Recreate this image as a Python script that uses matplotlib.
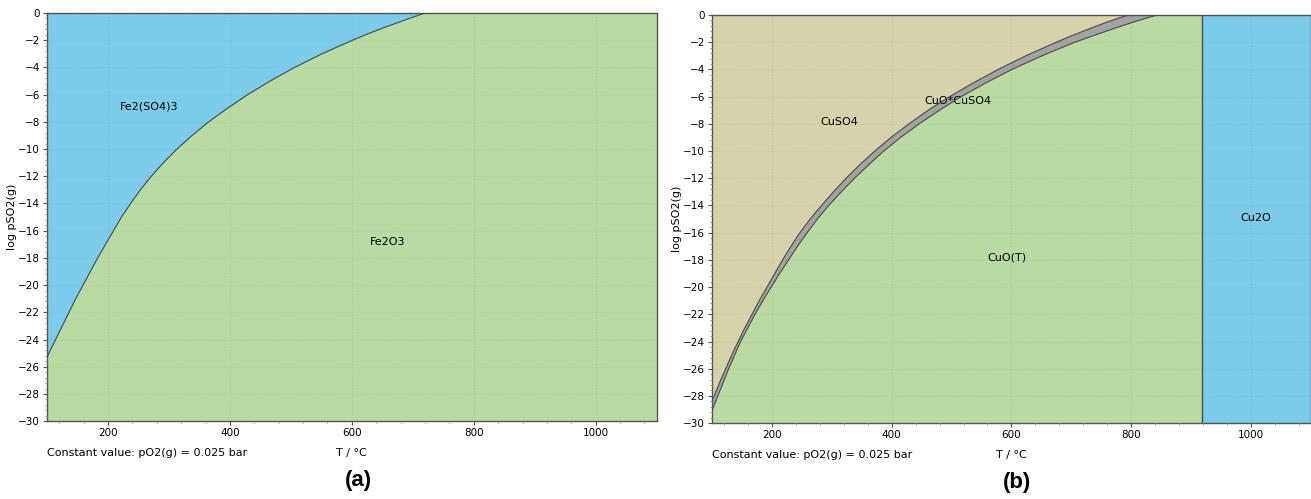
#!/usr/bin/env python3
"""Predominance diagrams: log pSO2 vs T at constant pO2 = 0.025 bar (Fe and Cu systems)."""

import matplotlib

matplotlib.use("Agg")
import matplotlib.pyplot as plt
from matplotlib.ticker import MultipleLocator

plt.rcParams["font.family"] = ["DejaVu Sans"]

OUT = "out.png"

T_MIN, T_MAX = 100, 1100
Y_MIN, Y_MAX = -30, 0

# (a) Fe2(SO4)3 / Fe2O3 boundary (log pSO2, T in °C)
FE_Y = [0, -0.5, -1, -1.5, -2, -3, -4, -5, -6, -7, -8, -9, -10, -11, -12, -13,
        -14, -15, -16, -17, -18, -19, -20, -21, -22, -23, -24, -25.3]
FE_T = [720, 688, 657, 628, 601, 551, 506, 466, 429, 396, 365, 338, 313, 291, 271, 253,
        237, 222, 209, 196, 183, 171, 159, 147, 136, 125, 114, 100]

# (b) CuSO4 / CuO*CuSO4 boundary
CU_UP_Y = [0, -0.5, -1, -1.5, -2, -3, -4, -5, -6, -7, -8, -9, -10, -11, -12, -13,
           -14, -15, -16, -17, -18, -19, -20, -21, -22, -23, -24, -25, -26, -27, -28, -28.3]
CU_UP_T = [795, 761, 731, 702, 675, 624, 578, 536, 497, 461, 429, 399, 372, 347, 324, 303,
           283, 264, 247, 232, 218, 205, 192, 179, 167, 155, 144, 133, 123, 113, 104, 100]
# (b) CuO*CuSO4 / CuO boundary
CU_LO_Y = [0, -0.5, -1, -1.5, -2, -3, -4, -5, -6, -7, -8, -9, -10, -11, -12, -13,
           -14, -15, -16, -17, -18, -19, -20, -21, -22, -23, -24, -25, -26, -27, -28, -29.1]
CU_LO_T = [843, 805, 771, 738, 706, 651, 601, 557, 516, 480, 446, 415, 387, 362, 338, 316,
           295, 276, 259, 243, 228, 213, 199, 185, 172, 160, 148, 138, 128, 119, 110, 100]
# (b) CuO / Cu2O boundary (vertical)
CU2O_T = 918

# labels: (text, T, log pSO2)
LABELS_A = [("Fe2(SO4)3", 268, -6.9), ("Fe2O3", 658, -16.8)]
LABELS_B = [("CuSO4", 313, -7.9), ("CuO*CuSO4", 510, -6.3),
            ("CuO(T)", 593, -17.8), ("Cu2O", 1008, -14.9)]

GREEN = "#b9dba2"
BLUE = "#7dcbea"
TAN = "#d6d2ac"
GRAY = "#a3a3a3"
LINE = "#4a4a4a"


def style_axes(ax):
    ax.set_xlim(T_MIN, T_MAX)
    ax.set_ylim(Y_MIN, Y_MAX)
    ax.xaxis.set_major_locator(MultipleLocator(200))
    ax.xaxis.set_minor_locator(MultipleLocator(40))
    ax.yaxis.set_major_locator(MultipleLocator(2))
    ax.yaxis.set_minor_locator(MultipleLocator(0.4))
    ax.tick_params(which="major", length=3, width=0.8, color="#555555", labelsize=7.5, pad=2)
    ax.tick_params(which="minor", length=1.5, width=0.6, color="#888888")
    ax.grid(True, which="major", color="#000000", alpha=0.07, linestyle=":", linewidth=0.8)
    ax.set_axisbelow(False)
    for sp in ax.spines.values():
        sp.set_color("#555555")
        sp.set_linewidth(1.0)
    ax.set_ylabel("log pSO2(g)", fontsize=8, labelpad=1)


def main():
    fig = plt.figure(figsize=(13.11, 4.99), dpi=100)
    ax_a = fig.add_axes([0.0359, 0.156, 0.465, 0.818])
    ax_b = fig.add_axes([0.543, 0.152, 0.457, 0.818])

    # (a)
    ax_a.set_facecolor(GREEN)
    ax_a.fill_betweenx(FE_Y, T_MIN, FE_T, color=BLUE, lw=0, zorder=1)
    ax_a.plot(FE_T, FE_Y, color=LINE, lw=0.8, zorder=3)
    for txt, t, y in LABELS_A:
        ax_a.text(t, y, txt, fontsize=8, ha="center", va="center", zorder=4)

    # (b)
    ax_b.set_facecolor(GREEN)
    ax_b.fill_betweenx(CU_UP_Y, T_MIN, CU_UP_T, color=TAN, lw=0, zorder=1)
    ax_b.fill(CU_UP_T + CU_LO_T[::-1], CU_UP_Y + CU_LO_Y[::-1],
              color=GRAY, lw=0, zorder=1)
    ax_b.axvspan(CU2O_T, T_MAX, color=BLUE, lw=0, zorder=1)
    ax_b.plot(CU_UP_T, CU_UP_Y, color=LINE, lw=0.8, zorder=3)
    ax_b.plot(CU_LO_T, CU_LO_Y, color=LINE, lw=0.8, zorder=3)
    ax_b.axvline(CU2O_T, color=LINE, lw=1.0, zorder=3)
    for txt, t, y in LABELS_B:
        ax_b.text(t, y, txt, fontsize=8, ha="center", va="center", zorder=4)

    for ax, tag in ((ax_a, "(a)"), (ax_b, "(b)")):
        style_axes(ax)
        ax.text(0.0, -0.065, "Constant value: pO2(g) = 0.025 bar", transform=ax.transAxes,
                fontsize=8, ha="left", va="top")
        ax.text(0.5, -0.065, "T / °C", transform=ax.transAxes, fontsize=8, ha="center", va="top")
        ax.text(0.51, -0.12, tag, transform=ax.transAxes, fontsize=16, fontweight="bold",
                family="Liberation Sans", ha="center", va="top")

    fig.savefig(OUT, dpi=100)


if __name__ == "__main__":
    main()
